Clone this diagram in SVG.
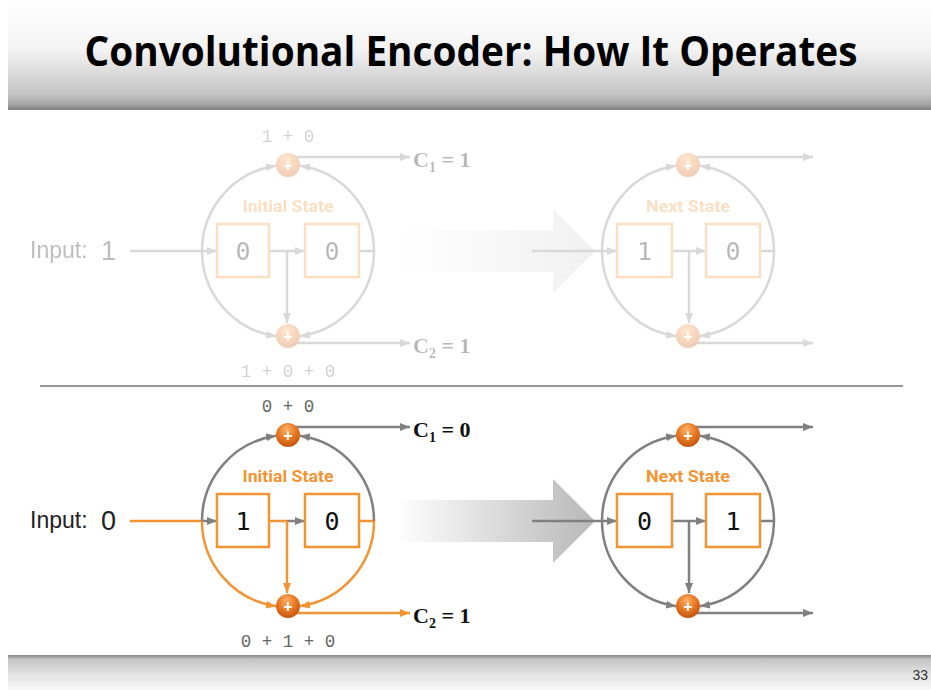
<svg xmlns="http://www.w3.org/2000/svg" width="931" height="690" viewBox="0 0 931 690">
  <style>
    .ln { fill: none; stroke: #808080; stroke-width: 2.5; }
    .lno { fill: none; stroke: #f39433; stroke-width: 2.5; }
    .reg { fill: #ffffff; stroke: #f39433; stroke-width: 2.5; }
    .bit { font-family: "DejaVu Sans Mono", "Liberation Mono", monospace; font-size: 25px; fill: #111; text-anchor: middle; }
    .sum { font-family: "Liberation Mono", "DejaVu Sans Mono", monospace; font-size: 17.5px; fill: #666; text-anchor: middle; }
    .state { font-family: Roboto, "Liberation Sans", sans-serif; font-weight: 700; font-size: 17px; fill: #f39433; text-anchor: middle; }
    .out { font-family: "Liberation Serif", "Times New Roman", serif; font-weight: 700; font-size: 22px; fill: #111; }
    .inp { font-family: "Liberation Sans", Arial, sans-serif; fill: #222; }
    .plus { font-family: "Liberation Sans", Arial, sans-serif; font-weight: 700; font-size: 16px; fill: #fff; text-anchor: middle; }
  </style>
  <defs>
    <linearGradient id="hdr" x1="0" y1="0" x2="0" y2="1">
      <stop offset="0" stop-color="#ffffff"/>
      <stop offset="0.45" stop-color="#f3f3f3"/>
      <stop offset="0.85" stop-color="#c6c6c6"/>
      <stop offset="0.95" stop-color="#a4a4a4"/>
      <stop offset="1" stop-color="#7e7e7e"/>
    </linearGradient>
    <linearGradient id="ftr" x1="0" y1="0" x2="0" y2="1">
      <stop offset="0" stop-color="#858585"/>
      <stop offset="0.12" stop-color="#c4c4c4"/>
      <stop offset="0.6" stop-color="#e6e6e6"/>
      <stop offset="1" stop-color="#f8f8f8"/>
    </linearGradient>
    <linearGradient id="flow" gradientUnits="userSpaceOnUse" x1="395" y1="0" x2="595" y2="0">
      <stop offset="0" stop-color="#ffffff"/>
      <stop offset="1" stop-color="#b8b8b8"/>
    </linearGradient>
    <radialGradient id="adder" cx="0.45" cy="0.35" r="0.65" fx="0.45" fy="0.25">
      <stop offset="0" stop-color="#fbb26a"/>
      <stop offset="0.55" stop-color="#ea7a24"/>
      <stop offset="1" stop-color="#c45610"/>
    </radialGradient>
    <marker id="ag" markerUnits="userSpaceOnUse" markerWidth="10" markerHeight="8" refX="10" refY="4" orient="auto">
      <path d="M0,0 L10,4 L0,8 z" fill="#808080"/>
    </marker>
    <marker id="ao" markerUnits="userSpaceOnUse" markerWidth="10" markerHeight="8" refX="10" refY="4" orient="auto">
      <path d="M0,0 L10,4 L0,8 z" fill="#f39433"/>
    </marker>
  </defs>

  <!-- title bar -->
  <g id="header">
    <rect x="8" y="0" width="923" height="110" fill="url(#hdr)"/>
    <text x="471" y="66" text-anchor="middle" textLength="773" lengthAdjust="spacingAndGlyphs" font-family="'Open Sans', 'Liberation Sans', sans-serif" font-weight="700" font-size="42" fill="#000">Convolutional Encoder: How It Operates</text>
  </g>

  <!-- footer bar -->
  <g id="footer">
    <rect x="8" y="655" width="923" height="35" fill="url(#ftr)"/>
    <text x="928" y="680" text-anchor="end" font-family="'Liberation Sans', Arial, sans-serif" font-size="14" fill="#333">33</text>
  </g>

  <line id="divider" x1="40" y1="386" x2="903" y2="386" stroke="#333" stroke-width="1.2"/>

  <!-- step 1: input 1, shown dimmed -->
  <g id="step1" opacity="0.3" transform="translate(0,-270)">
    <g id="step1-connectors">
      <path class="ln" d="M130,521 H217" marker-end="url(#ag)"/>
      <path class="ln" d="M269,521 H305" marker-end="url(#ag)"/>
      <path class="ln" d="M287,521 V593" marker-end="url(#ag)"/>
      <path class="ln" d="M359,521 H374"/>
      <path class="ln" d="M202,521 A86,86 0 0 1 276.03,435.84" marker-end="url(#ag)"/>
      <path class="ln" d="M374,521 A86,86 0 0 0 299.97,435.84" marker-end="url(#ag)"/>
      <path class="ln" d="M202,521 A86,86 0 0 0 276.03,606.16" marker-end="url(#ag)"/>
      <path class="ln" d="M374,521 A86,86 0 0 1 299.97,606.16" marker-end="url(#ag)"/>
      <path class="ln" d="M288,427 H410" marker-end="url(#ag)"/>
      <path class="ln" d="M288,613 H410" marker-end="url(#ag)"/>
      <path d="M400,500 H553 V479 L595,521 L553,563 V542 H400 Z" fill="url(#flow)" opacity="0.7"/>
      <path class="ln" d="M532,521 H617" marker-end="url(#ag)"/>
      <path class="ln" d="M672,521 H706" marker-end="url(#ag)"/>
      <path class="ln" d="M689,521 V593" marker-end="url(#ag)"/>
      <path class="ln" d="M760,521 H774"/>
      <path class="ln" d="M602,521 A86,86 0 0 1 676.03,435.84" marker-end="url(#ag)"/>
      <path class="ln" d="M774,521 A86,86 0 0 0 699.97,435.84" marker-end="url(#ag)"/>
      <path class="ln" d="M602,521 A86,86 0 0 0 676.03,606.16" marker-end="url(#ag)"/>
      <path class="ln" d="M774,521 A86,86 0 0 1 699.97,606.16" marker-end="url(#ag)"/>
      <path class="ln" d="M688,427 H813" marker-end="url(#ag)"/>
      <path class="ln" d="M688,613 H813" marker-end="url(#ag)"/>
    </g>
    <g id="s1-input">
      <text class="inp" x="30" y="528" font-size="23">Input:</text>
      <text class="inp" x="101" y="530" font-size="27">1</text>
    </g>
    <g id="s1-reg1"><rect class="reg" x="217" y="494" width="52" height="53"/><text class="bit" x="243" y="530">0</text></g>
    <g id="s1-reg2"><rect class="reg" x="305" y="494" width="54" height="53"/><text class="bit" x="332" y="530">0</text></g>
    <text class="state" x="288" y="482" textLength="91" lengthAdjust="spacingAndGlyphs">Initial State</text>
    <g id="s1-add1"><circle cx="288" cy="435" r="12" fill="url(#adder)"/><text class="plus" x="288" y="440.5">+</text></g>
    <g id="s1-add2"><circle cx="288" cy="606" r="12" fill="url(#adder)"/><text class="plus" x="288" y="611.5">+</text></g>
    <text class="sum" x="288" y="412">1 + 0</text>
    <text class="sum" x="288" y="647">1 + 0 + 0</text>
    <text class="out" x="413" y="437">C<tspan font-size="14" dy="5">1</tspan><tspan dy="-5"> = 1</tspan></text>
    <text class="out" x="413" y="623">C<tspan font-size="14" dy="5">2</tspan><tspan dy="-5"> = 1</tspan></text>
    <g id="s1-next1"><rect class="reg" x="617" y="494" width="55" height="53"/><text class="bit" x="644.5" y="530">1</text></g>
    <g id="s1-next2"><rect class="reg" x="706" y="494" width="54" height="53"/><text class="bit" x="733" y="530">0</text></g>
    <text class="state" x="688" y="482" textLength="84" lengthAdjust="spacingAndGlyphs">Next State</text>
    <g id="s1-add3"><circle cx="688" cy="435" r="12" fill="url(#adder)"/><text class="plus" x="688" y="440.5">+</text></g>
    <g id="s1-add4"><circle cx="688" cy="606" r="12" fill="url(#adder)"/><text class="plus" x="688" y="611.5">+</text></g>
  </g>

  <!-- step 2: input 0 -->
  <g id="step2">
    <g id="connectors">
      <path class="lno" d="M130,521 H202"/>
      <path class="ln" d="M202,521 H217" marker-end="url(#ag)"/>
      <path class="lno" d="M269,521 H287"/>
      <path class="ln" d="M287,521 H305" marker-end="url(#ag)"/>
      <path class="lno" d="M287,521 V593" marker-end="url(#ao)"/>
      <path class="lno" d="M359,521 H374"/>
      <path class="ln" d="M202,521 A86,86 0 0 1 276.03,435.84" marker-end="url(#ag)"/>
      <path class="ln" d="M374,521 A86,86 0 0 0 299.97,435.84" marker-end="url(#ag)"/>
      <path class="lno" d="M202,521 A86,86 0 0 0 276.03,606.16" marker-end="url(#ao)"/>
      <path class="lno" d="M374,521 A86,86 0 0 1 299.97,606.16" marker-end="url(#ao)"/>
      <path class="ln" d="M288,427 H410" marker-end="url(#ag)"/>
      <path class="lno" d="M288,613 H410" marker-end="url(#ao)"/>
      <path id="transition" d="M400,500 H553 V479 L595,521 L553,563 V542 H400 Z" fill="url(#flow)"/>
      <path class="ln" d="M532,521 H617" marker-end="url(#ag)"/>
      <path class="ln" d="M672,521 H706" marker-end="url(#ag)"/>
      <path class="ln" d="M689,521 V593" marker-end="url(#ag)"/>
      <path class="ln" d="M760,521 H774"/>
      <path class="ln" d="M602,521 A86,86 0 0 1 676.03,435.84" marker-end="url(#ag)"/>
      <path class="ln" d="M774,521 A86,86 0 0 0 699.97,435.84" marker-end="url(#ag)"/>
      <path class="ln" d="M602,521 A86,86 0 0 0 676.03,606.16" marker-end="url(#ag)"/>
      <path class="ln" d="M774,521 A86,86 0 0 1 699.97,606.16" marker-end="url(#ag)"/>
      <path class="ln" d="M688,427 H813" marker-end="url(#ag)"/>
      <path class="ln" d="M688,613 H813" marker-end="url(#ag)"/>
    </g>
    <g id="input">
      <text class="inp" x="30" y="528" font-size="23">Input:</text>
      <text class="inp" x="101" y="530" font-size="27">0</text>
    </g>
    <g id="reg1"><rect class="reg" x="217" y="494" width="52" height="53"/><text class="bit" x="243" y="530">1</text></g>
    <g id="reg2"><rect class="reg" x="305" y="494" width="54" height="53"/><text class="bit" x="332" y="530">0</text></g>
    <text id="initial-label" class="state" x="288" y="482" textLength="91" lengthAdjust="spacingAndGlyphs">Initial State</text>
    <g id="adder1"><circle cx="288" cy="435" r="12" fill="url(#adder)"/><text class="plus" x="288" y="440.5">+</text></g>
    <g id="adder2"><circle cx="288" cy="606" r="12" fill="url(#adder)"/><text class="plus" x="288" y="611.5">+</text></g>
    <text class="sum" x="288" y="412">0 + 0</text>
    <text class="sum" x="288" y="647">0 + 1 + 0</text>
    <text id="c1" class="out" x="413" y="437">C<tspan font-size="14" dy="5">1</tspan><tspan dy="-5"> = 0</tspan></text>
    <text id="c2" class="out" x="413" y="623">C<tspan font-size="14" dy="5">2</tspan><tspan dy="-5"> = 1</tspan></text>
    <g id="next1"><rect class="reg" x="617" y="494" width="55" height="53"/><text class="bit" x="644.5" y="530">0</text></g>
    <g id="next2"><rect class="reg" x="706" y="494" width="54" height="53"/><text class="bit" x="733" y="530">1</text></g>
    <text id="next-label" class="state" x="688" y="482" textLength="84" lengthAdjust="spacingAndGlyphs">Next State</text>
    <g id="adder3"><circle cx="688" cy="435" r="12" fill="url(#adder)"/><text class="plus" x="688" y="440.5">+</text></g>
    <g id="adder4"><circle cx="688" cy="606" r="12" fill="url(#adder)"/><text class="plus" x="688" y="611.5">+</text></g>
  </g>
</svg>
